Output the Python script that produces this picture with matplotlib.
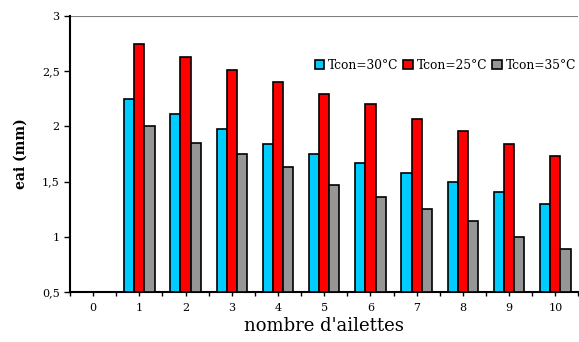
import matplotlib
matplotlib.use("Agg")
import matplotlib.pyplot as plt
import numpy as np
from matplotlib.ticker import FixedLocator, FuncFormatter

categories = [0, 1, 2, 3, 4, 5, 6, 7, 8, 9, 10]
tcon30 = [np.nan, 2.25, 2.11, 1.98, 1.84, 1.75, 1.67, 1.58, 1.50, 1.41, 1.30]
tcon25 = [np.nan, 2.75, 2.63, 2.51, 2.40, 2.29, 2.20, 2.07, 1.96, 1.84, 1.73]
tcon35 = [np.nan, 2.00, 1.85, 1.75, 1.63, 1.47, 1.36, 1.25, 1.14, 1.00, 0.89]
labels = ["Tcon=30°C", "Tcon=25°C", "Tcon=35°C"]
colors = ["#00CCFF", "#FF0000", "#969696"]
yticks = [0.5, 1, 1.5, 2, 2.5, 3]

plt.rcParams['font.family'] = ['DejaVu Serif']

fig = plt.figure(figsize=(5.79, 3.42), dpi=100)
ax = fig.add_axes([70/579, 1-292/342, 1-70/579 - 0.001, (292-16)/342])

x = np.arange(len(categories))
w = 0.22
for i, (vals, lab, c) in enumerate(zip([tcon30, tcon25, tcon35], labels, colors)):
    v = np.array(vals, dtype=float)
    ax.bar(x + (i-1)*w, v - 0.5, w, bottom=0.5, color=c, edgecolor='black',
           linewidth=1.2, label=lab, zorder=3)

ax.axhline(3, color='#808080', linewidth=1.5, zorder=1)
ax.set_xlim(-0.5, 10.5)
ax.set_ylim(0.5, 3)
ax.set_xticks(x)
ax.set_xticklabels([str(c) for c in categories], fontsize=8)
ax.xaxis.set_minor_locator(FixedLocator(np.arange(-0.5, 11, 1)))
ax.tick_params(axis='x', which='both', direction='out', length=3, width=1, pad=5)
ax.set_yticks(yticks)
ax.yaxis.set_major_formatter(FuncFormatter(lambda v, p: ('%g' % v).replace('.', ',')))
ax.tick_params(axis='y', direction='out', length=4, width=1, labelsize=8)

for s in ['top', 'right']:
    ax.spines[s].set_visible(False)
ax.spines['left'].set_linewidth(1.5)
ax.spines['bottom'].set_linewidth(1.5)

ax.set_xlabel("nombre d'ailettes", fontsize=13, labelpad=3)
ax.set_ylabel("eai (mm)", fontsize=10, fontweight='bold', labelpad=10)

leg = ax.legend(loc='center right', bbox_to_anchor=(1.005, 0.822), ncol=3, frameon=False,
                fontsize=8.8, handlelength=0.8, handleheight=0.8, handletextpad=0.3,
                columnspacing=0.4, borderaxespad=0)

fig.savefig("out.png", dpi=100)
